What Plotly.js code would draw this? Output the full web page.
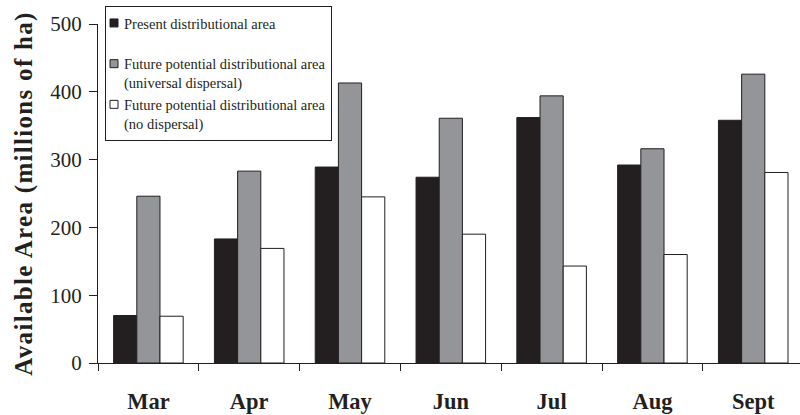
<!DOCTYPE html>
<html>
<head>
<meta charset="utf-8">
<script src="https://cdn.plot.ly/plotly-3.0.1.min.js"></script>
<style>
html,body{margin:0;padding:0;background:#fff;overflow:hidden;}
#chart{width:800px;height:415px;}
#chart .ytitle{letter-spacing:1.3px;}
</style>
</head>
<body>
<div id="chart"></div>
<script>
const months = ["Mar", "Apr", "May", "Jun", "Jul", "Aug", "Sept"];
const presentArea = [70, 183, 289, 274, 362, 292, 358];
const futureUniversal = [246, 283, 413, 361, 394, 316, 426];
const futureNoDispersal = [69, 169, 245, 190, 143, 160, 281];
const yTicks = [0, 100, 200, 300, 400, 500];

const ink = "#231f20";
const serif = "Liberation Serif, Times New Roman, serif";

const traces = [
  {
    type: "bar", x: months, y: presentArea,
    name: "Present distributional area<br> ",
    marker: {color: ink, line: {color: ink, width: 1}}
  },
  {
    type: "bar", x: months, y: futureUniversal,
    name: "Future potential distributional area<br>(universal dispersal)",
    marker: {color: "#939598", line: {color: ink, width: 1}}
  },
  {
    type: "bar", x: months, y: futureNoDispersal,
    name: "Future potential distributional area<br>(no dispersal)",
    marker: {color: "#ffffff", line: {color: ink, width: 1}}
  }
];

const layout = {
  width: 800, height: 415,
  margin: {l: 98, r: 0, t: 24, b: 52},
  paper_bgcolor: "#fff", plot_bgcolor: "#fff",
  font: {family: serif, color: ink},
  barmode: "group",
  bargap: 0.31,
  bargroupgap: 0,
  showlegend: true,
  legend: {
    x: 0.01, y: 1.053, xanchor: "left", yanchor: "top",
    bordercolor: ink, borderwidth: 1, bgcolor: "#fff",
    font: {family: serif, size: 14.5, color: ink},
    valign: "top",
    itemwidth: 30,
    traceorder: "normal"
  },
  xaxis: {
    type: "category",
    range: [-0.5, 6.464],
    showline: true, linecolor: ink, linewidth: 1,
    ticks: "outside", tickson: "boundaries", ticklen: 7, tickcolor: ink, tickwidth: 1,
    showgrid: false, zeroline: false,
    tickfont: {family: serif, size: 22.5, color: ink, weight: "bold"},
    ticklabelstandoff: 18
  },
  yaxis: {
    range: [0, 500],
    tickvals: yTicks,
    showline: true, linecolor: ink, linewidth: 1,
    ticks: "outside", ticklen: 8, tickcolor: ink, tickwidth: 1,
    showgrid: false, zeroline: false,
    tickfont: {family: serif, size: 21, color: ink},
    ticklabelstandoff: 3,
    title: {
      text: "Available Area (millions of ha)",
      font: {family: serif, size: 25, color: ink, weight: "bold"},
      standoff: 10
    }
  }
};

// compact legend styling: smaller swatches, tighter text gap (as in the reference)
function compactLegend(gd) {
  const shift = 22;
  const leg = gd.querySelector(".legend");
  if (!leg) return;
  leg.querySelectorAll("g.traces").forEach(tr => {
    tr.querySelectorAll("path").forEach(p => {
      const d = p.getAttribute("d") || "";
      if (!/^M6,6H-6V-6H6Z$/.test(d.replace(/\s/g, ""))) return;
      p.setAttribute("d", "M4,4H-4V-4H4Z");
      const tf = p.getAttribute("transform") || "";
      const m = tf.match(/translate\(\s*([-\d.]+)[\s,]*([-\d.]*)\s*\)/);
      const tx = m ? parseFloat(m[1]) : 0;
      const ty = m && m[2] !== "" ? parseFloat(m[2]) : 0;
      p.setAttribute("transform", "translate(" + (tx - 12) + "," + ty + ")");
    });
    const t = tr.querySelector("text.legendtext");
    if (t) t.setAttribute("transform", "translate(" + (-shift) + ",0)");
  });
  const bg = leg.querySelector("rect.bg");
  if (bg) {
    const w = parseFloat(bg.getAttribute("width"));
    if (!isNaN(w)) bg.setAttribute("width", w - shift);
  }
}

const gd = document.getElementById("chart");
Plotly.newPlot(gd, traces, layout, {displayModeBar: false, staticPlot: true})
  .then(() => compactLegend(gd));
</script>
</body>
</html>
